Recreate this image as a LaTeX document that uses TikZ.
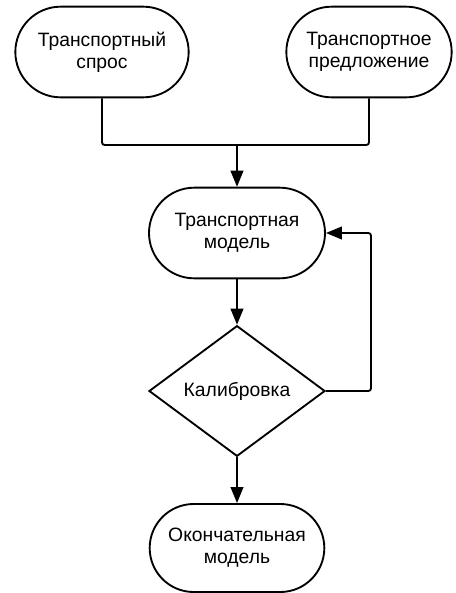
\documentclass[tikz,border=0pt]{standalone}
\usepackage{fontspec}
\setmainfont{Liberation Sans}
\usetikzlibrary{shapes.misc,shapes.geometric,arrows.meta}

\begin{document}
\begin{tikzpicture}[x=0.75pt,y=-0.75pt,>={Triangle[length=12pt,width=9.5pt]},
    term/.style={draw,line width=1.4pt,rounded rectangle,minimum height=68pt,
        align=center,inner sep=2pt,font=\fontsize{14.5}{16.5}\selectfont},
    check/.style={draw,line width=1.4pt,diamond,minimum width=132pt,minimum height=98pt,
        inner sep=0pt,font=\fontsize{14.5}{16.5}\selectfont},
    conn/.style={line width=1.4pt,rounded corners=2pt}]
    \useasboundingbox (0,0) rectangle (455,593);
    \node[term,minimum width=134pt] (demand) at (102,52) {Транспортный\\спрос};
    \node[term,minimum width=128pt] (supply) at (369,52) {Транспортное\\предложение};
    \node[term,minimum width=136pt] (model) at (237,233) {Транспортная\\модель};
    \node[check] (calib) at (237,391) {Калибровка};
    \node[term,minimum width=135pt,minimum height=66pt] (final) at (237,548) {Окончательная\\модель};
    \coordinate (join) at (237,145);
    \coordinate (loop) at (371,391);
    \draw[conn] (demand.south) |- (join) -| (supply.south);
    \draw[conn,->] (join)--(model.north);
    \draw[conn,->] (model.south)--(calib.north);
    \draw[conn,->] (calib.south)--(final.north);
    \draw[conn,->] (calib.east)--(loop)|-(model.east);
\end{tikzpicture}
\end{document}
